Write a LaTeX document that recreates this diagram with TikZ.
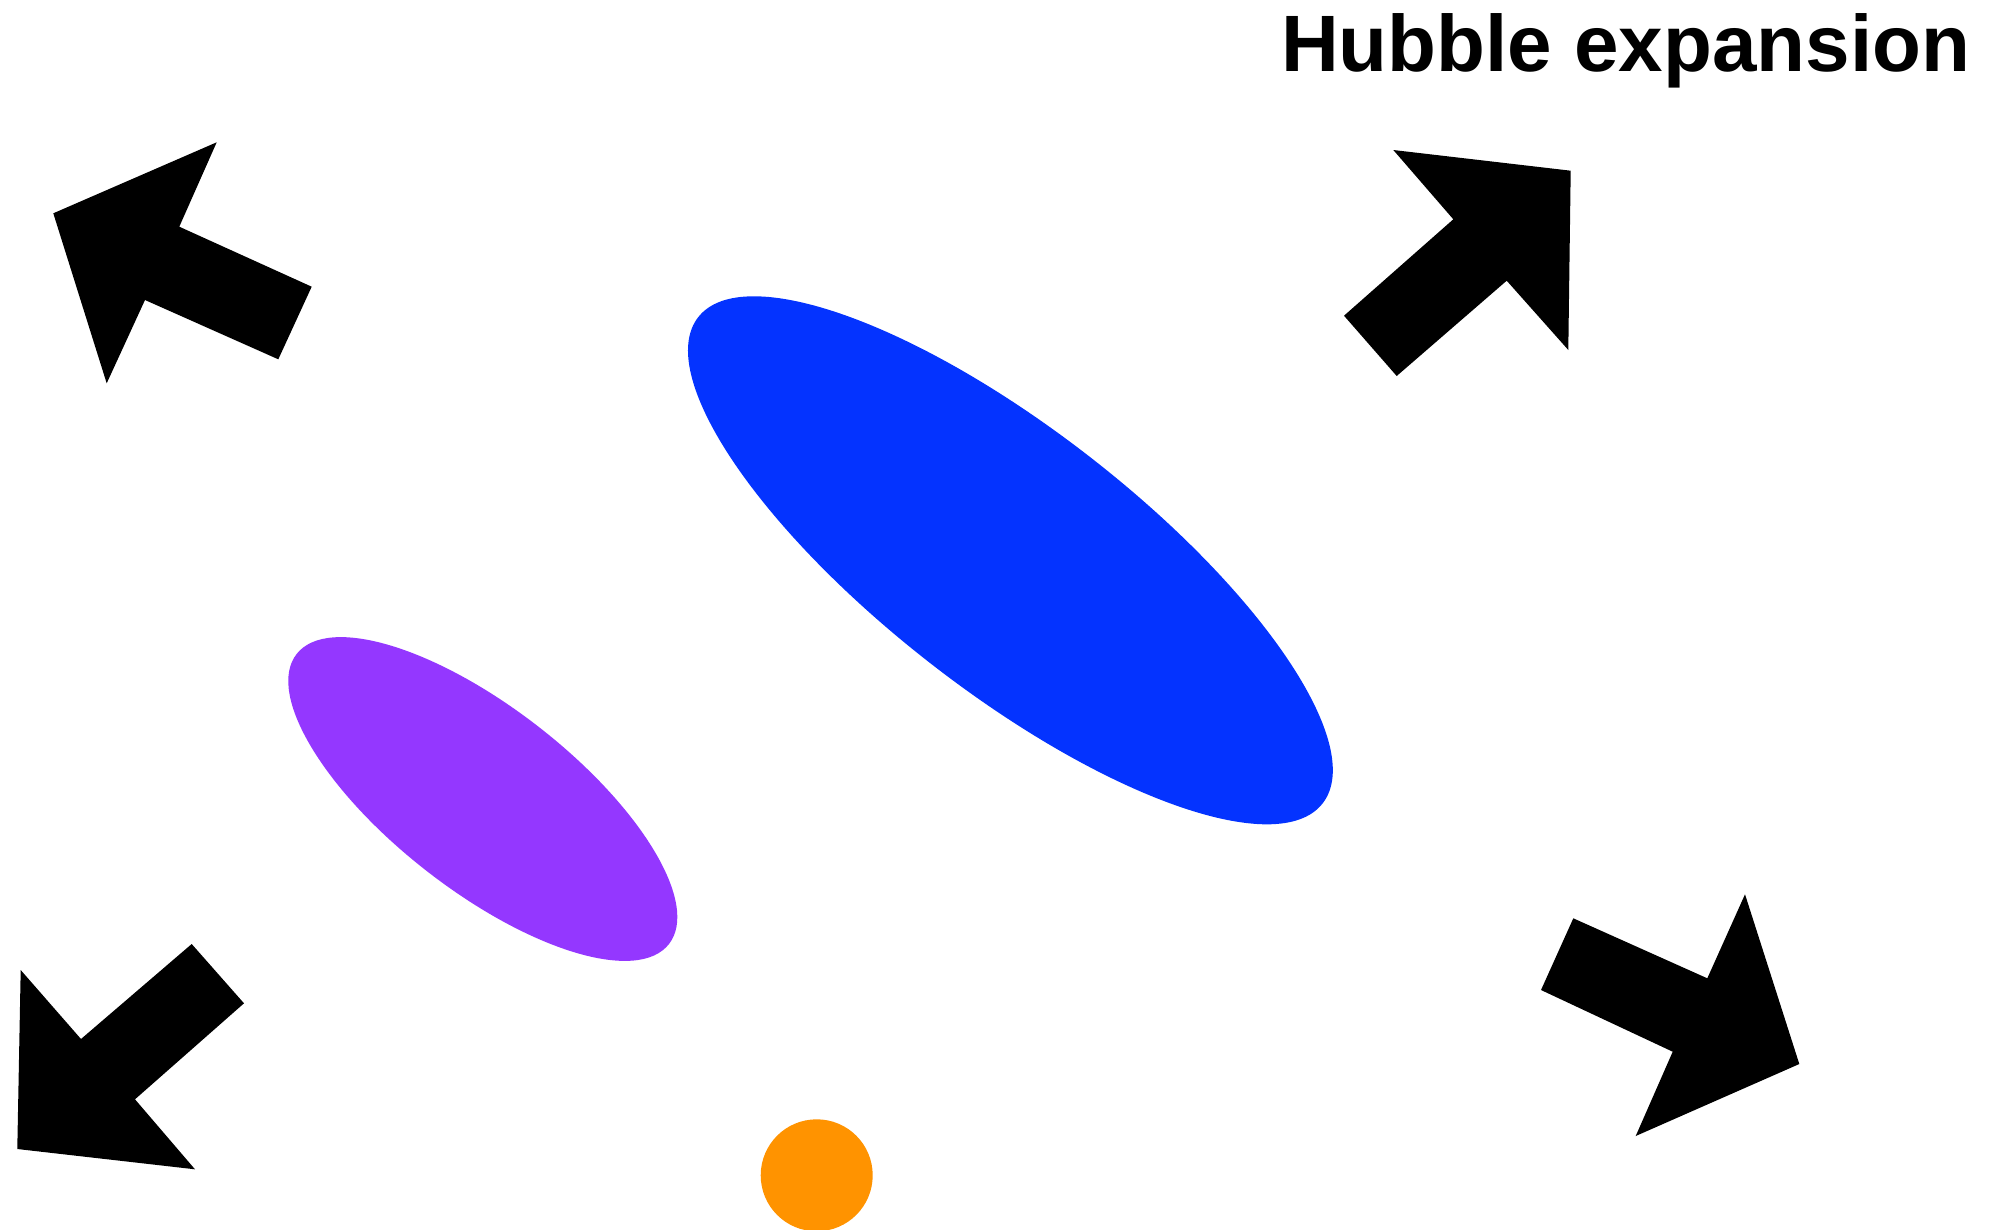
\documentclass[tikz,border=0pt]{standalone}
\usepackage{fontspec}
\setmainfont{Liberation Sans}
\usetikzlibrary{shapes.geometric}
\definecolor{blueberry}{HTML}{0433FF}
\definecolor{grape}{HTML}{9437FF}
\definecolor{tangerine}{HTML}{FF9300}
\tikzset{
  bigarrow/.style={fill=black},
  galaxy/.style={ellipse, inner sep=0pt, draw=none},
}
\begin{document}
\begin{tikzpicture}[x=1pt,y=-1pt]
\useasboundingbox (0,0) rectangle (1994,1229);
\clip (0,0) rectangle (1994,1229);
\fill[white] (0,0) rectangle (1994,1229);
% title
\node[anchor=base west, inner sep=0pt, font=\bfseries\fontsize{80}{90}\selectfont] (title) at (1281,71) {Hubble expansion};
% galaxies
\node[galaxy, fill=blueberry, minimum width=791.4pt, minimum height=260.8pt, rotate=-37.9] (blue) at (1010.4,560.3) {};
\node[galaxy, fill=grape, minimum width=472pt, minimum height=182.5pt, rotate=-37.9] (purple) at (482.8,799) {};
\node[circle, fill=tangerine, inner sep=0pt, minimum size=112pt] (sun) at (816.7,1175.3) {};
% arrows
\fill[bigarrow] (216.7,142.3) -- (53.3,213.3) -- (106.7,383.3) -- (145,300) -- (278.3,359.3) -- (311.7,286.7) -- (179.3,226.7) -- cycle;
\fill[bigarrow] (1393.3,150) -- (1570.7,170.7) -- (1568.3,350) -- (1506.7,280.7) -- (1396.7,376) -- (1344,315.7) -- (1453.3,219.3) -- cycle;
\fill[bigarrow] (20.7,970) -- (17.3,1149) -- (195,1169.3) -- (135,1099.3) -- (244,1003.3) -- (191.7,944) -- (81,1039) -- cycle;
\fill[bigarrow] (1745,894.3) -- (1799.3,1064) -- (1635.7,1136) -- (1672.7,1051.7) -- (1541,990) -- (1573.3,918.3) -- (1707.3,978.3) -- cycle;
\end{tikzpicture}
\end{document}
